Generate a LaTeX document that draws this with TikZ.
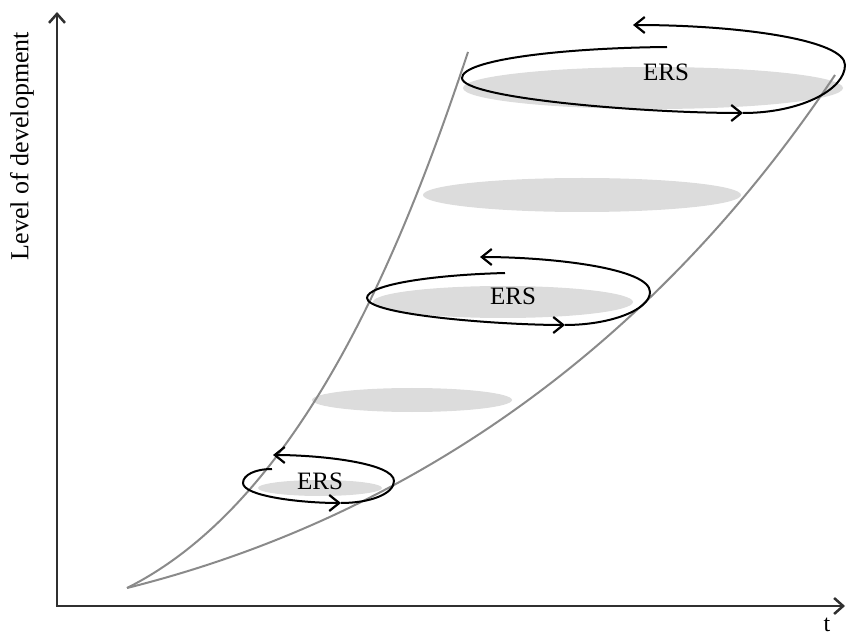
\documentclass[tikz,border=0pt]{standalone}
\usepackage{fontspec}
\setmainfont{Liberation Serif}
\usetikzlibrary{arrows.meta}
\definecolor{conegray}{HTML}{8A8A8A}
\definecolor{shade}{HTML}{DCDCDC}
\definecolor{axiscol}{HTML}{303030}
\tikzset{
  conecurve/.style={draw=conegray, line width=2pt},
  disc/.style={fill=shade, draw=none},
  spiral/.style={draw=black, line width=2pt},
  barb/.style={-{Straight Barb[length=10pt,width=16pt,line width=2.2pt]}},
  axisline/.style={draw=axiscol, line width=2.5pt, -{Straight Barb[length=9pt,width=16pt,line width=2.5pt]}},
  erslabel/.style={font=\fontsize{25}{28}\selectfont, inner sep=0pt},
  axlabel/.style={font=\fontsize{26}{30}\selectfont, inner sep=0pt}
}
\begin{document}
\begin{tikzpicture}[x=1pt,y=-1pt]
\useasboundingbox (0,0) rectangle (847,639);
% shaded discs
\fill[disc] (653,88) ellipse [x radius=190, y radius=21];
\fill[disc] (582,195) ellipse [x radius=159, y radius=17];
\fill[disc] (503,302) ellipse [x radius=130, y radius=16];
\fill[disc] (412,400) ellipse [x radius=100, y radius=12];
\fill[disc] (320,488) ellipse [x radius=62, y radius=8];
% cone
\coordinate (tip) at (127,588);
\coordinate (ltop) at (468,52);
\coordinate (rtop) at (835,75);
\draw[conecurve] (tip) .. controls (307,498) and (408,232) .. (ltop);
\draw[conecurve] (tip) .. controls (427,513) and (665,330) .. (rtop);
% axes
\coordinate (O) at (57,606);
\coordinate (ytop) at (57,12);
\coordinate (xend) at (845,606);
\draw[axisline] (O) -- (ytop);
\draw[axisline] (55.8,606) -- (xend);
\node[axlabel, rotate=90] (ylab) at (22,146) {Level of development};
\node[font=\fontsize{24}{26}\selectfont, inner sep=0pt] (xlab) at (827,625) {t};
% top spiral
\coordinate (a1) at (667,47);
\coordinate (a2) at (462,78);
\coordinate (a3) at (743,113);
\coordinate (a4) at (845,65);
\coordinate (a5) at (633,25);
\draw[spiral, barb] (a1) .. controls (560,48) and (462,60) .. (a2)
   .. controls (462,98) and (640,113) .. (a3);
\draw[spiral, barb] (a3) .. controls (800,113) and (845,90) .. (a4)
   .. controls (845,40) and (740,25) .. (a5);
\node[erslabel] (ers1) at (666,72) {ERS};
% middle spiral
\coordinate (b1) at (505,273);
\coordinate (b2) at (367,298);
\coordinate (b3) at (565,325);
\coordinate (b4) at (650,292);
\coordinate (b5) at (480,257);
\draw[spiral, barb] (b1) .. controls (430,275) and (367,285) .. (b2)
   .. controls (367,315) and (500,325) .. (b3);
\draw[spiral, barb] (b3) .. controls (610,325) and (650,310) .. (b4)
   .. controls (650,268) and (550,257) .. (b5);
\node[erslabel] (ers2) at (513,296) {ERS};
% bottom spiral
\coordinate (c1) at (272,469);
\coordinate (c2) at (243,483);
\coordinate (c3) at (341,503);
\coordinate (c4) at (394,481);
\coordinate (c5) at (273,455);
\draw[spiral, barb] (c1) .. controls (255,469) and (243,475) .. (c2)
   .. controls (243,496) and (300,503) .. (c3);
\draw[spiral, barb] (c3) .. controls (370,503) and (394,494) .. (c4)
   .. controls (394,463) and (320,455) .. (c5);
\node[erslabel] (ers3) at (320,481) {ERS};
\end{tikzpicture}
\end{document}
